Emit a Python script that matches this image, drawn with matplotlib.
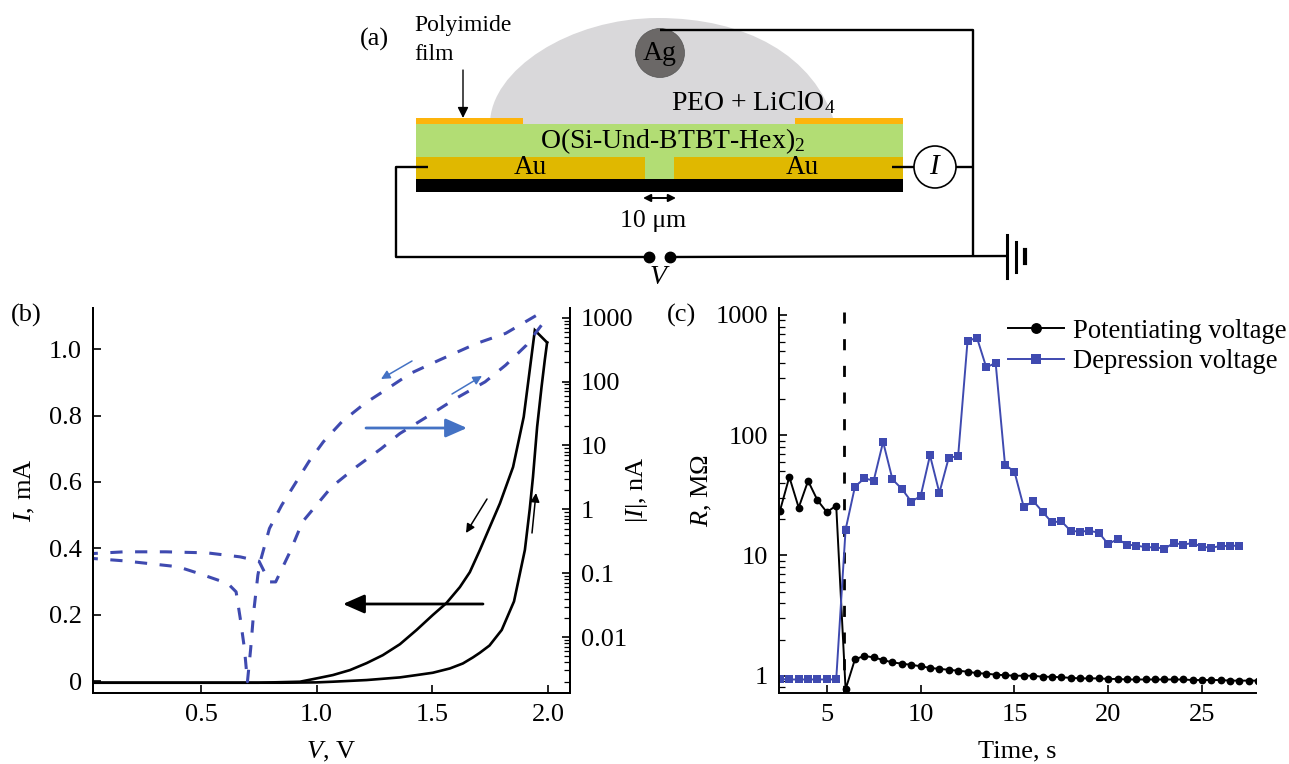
import numpy as np
import matplotlib
matplotlib.use('Agg')
import matplotlib.pyplot as plt
from matplotlib.patches import Rectangle, Ellipse, PathPatch
from matplotlib.path import Path

plt.rcParams['font.family'] = ['Liberation Serif', 'DejaVu Serif']
plt.rcParams['mathtext.fontset'] = 'custom'
plt.rcParams['mathtext.rm'] = 'Liberation Serif'
plt.rcParams['mathtext.it'] = 'Liberation Serif:italic'
plt.rcParams['axes.linewidth'] = 1.4

BLUE = '#3f4ab0'
ARROW_BLUE = '#4472c4'
TICK_FS = 19

# (b) I-V loop, linear axis (V, mA)
iv_up_v = [0.03, 0.5, 0.85, 1.0, 1.07, 1.216, 1.36, 1.432, 1.502, 1.576, 1.632, 1.675, 1.705, 1.747, 1.8, 1.853,
           1.9, 1.921, 1.935, 1.953, 1.972, 1.986, 1.996]
iv_up_i = [-0.005, -0.005, -0.005, -0.004, -0.002, 0.003, 0.011, 0.018, 0.025, 0.038, 0.053, 0.071, 0.085, 0.107, 0.154, 0.24,
           0.395, 0.518, 0.615, 0.766, 0.886, 0.967, 1.02]
iv_down_v = [1.996, 1.943, 1.921, 1.895, 1.849, 1.792, 1.705, 1.662, 1.619, 1.561, 1.502, 1.432, 1.36, 1.286,
             1.216, 1.144, 1.07, 1.0, 0.928, 0.75, 0.5, 0.03]
iv_down_i = [1.02, 1.057, 0.937, 0.796, 0.645, 0.535, 0.394, 0.328, 0.283, 0.235, 0.199, 0.154, 0.111, 0.078,
             0.054, 0.033, 0.018, 0.008, -0.002, -0.005, -0.005, -0.005]

# (b) same loop on log axis (V, nA)
log_a_v = [0.032, 0.168, 0.348, 0.527, 0.670, 0.751, 0.796, 0.823, 0.885, 0.939, 1.011, 1.065, 1.172, 1.280,
           1.360, 1.477, 1.602, 1.728, 1.817, 1.907, 1.996]
log_a_i = [0.203, 0.216, 0.216, 0.208, 0.180, 0.154, 0.073, 0.073, 0.216, 0.637, 1.31, 2.25, 4.63, 8.97,
           15.4, 28.1, 54.5, 99, 181, 373, 1000]
log_b_v = [0.032, 0.168, 0.401, 0.491, 0.616, 0.652, 0.670, 0.688, 0.701, 0.715, 0.728, 0.746, 0.760, 0.796,
           0.849, 0.903, 0.966, 1.029, 1.109, 1.208, 1.297, 1.405, 1.530, 1.692, 1.817, 1.952]
log_b_i = [0.170, 0.156, 0.126, 0.099, 0.069, 0.051, 0.0195, 0.0066, 0.002, 0.0066, 0.0248, 0.093, 0.170, 0.501,
           1.16, 2.39, 5.55, 11.4, 23.5, 45.5, 73.6, 134, 217, 396, 569, 1100]

# (c) resistance vs time
pot_t = np.arange(2.5, 28.5, 0.5)
pot_r = [23.5, 45, 25, 41.7, 28.8, 22.9, 26, 0.77, 1.37, 1.46, 1.42, 1.35, 1.29, 1.26, 1.23, 1.20, 1.16, 1.14,
         1.12, 1.10, 1.08, 1.05, 1.04, 1.02, 1.01, 1.00, 1.00, 1.00, 0.98, 0.98, 0.97, 0.96,
         0.95, 0.95, 0.95, 0.94, 0.94, 0.93, 0.93, 0.93, 0.93, 0.93, 0.93, 0.93, 0.92, 0.92, 0.92, 0.92,
         0.91, 0.91, 0.91, 0.91]
dep_t = np.arange(2.5, 27.5, 0.5)
dep_r = [0.94, 0.93, 0.93, 0.93, 0.93, 0.93, 0.93, 16.4, 37.4, 43.7, 42, 88, 42.9, 35.8, 28.1, 31.1, 68, 33.2,
         65, 67, 604, 649, 367, 399, 56.6, 49.9, 25.2, 28.4, 23.1, 18.8, 19.3, 16, 15.8, 16, 15.5,
         12.4, 13.7, 12.3, 12.1, 11.7, 11.7, 11.4, 12.7, 12.3, 12.7, 11.8, 11.6, 12.0, 12.0, 12.1]
switch_t = [5.93, 5.93]
switch_r = [1059, 0.718]

W, H = 1289, 764
fig = plt.figure(figsize=(W / 100, H / 100), dpi=100)


def axes_px(x0, x1, y0, y1):
    return fig.add_axes([x0 / W, 1 - y1 / H, (x1 - x0) / W, (y1 - y0) / H])


# panel b
ax = axes_px(93, 570, 308, 693)
ax.plot(iv_up_v, iv_up_i, color='k', lw=1.9, solid_joinstyle='miter')
ax.plot(iv_down_v, iv_down_i, color='k', lw=1.9, solid_joinstyle='miter')
ax.set_xlim(0.0335, 2.095)
ax.set_ylim(-0.036, 1.124)
ax.set_xticks([0.5, 1.0, 1.5, 2.0])
ax.set_yticks([0, 0.2, 0.4, 0.6, 0.8, 1.0])
ax.set_yticklabels(['0', '0.2', '0.4', '0.6', '0.8', '1.0'])
ax.tick_params(direction='in', length=6, width=1.2, labelsize=TICK_FS, pad=8)
ax.spines['top'].set_visible(False)
ax.set_xlabel('$\\mathit{V}$, V', fontsize=TICK_FS, labelpad=10)
ax.set_ylabel('$\\mathit{I}$, mA', fontsize=TICK_FS)
ax.yaxis.set_label_coords(-0.117, 0.527)

ax2 = ax.twinx()
ax2.plot(log_a_v, log_a_i, color=BLUE, lw=2.2, linestyle=(2.3, (4, 4.1)))
ax2.plot(log_b_v, log_b_i, color=BLUE, lw=2.2, linestyle=(2.3, (4, 4.1)))
ax2.set_yscale('log')
ax2.set_ylim(10 ** -2.876, 10 ** 3.152)
ax2.set_yticks([0.01, 0.1, 1, 10, 100, 1000])
ax2.set_yticklabels(['0.01', '0.1', '1', '10', '100', '1000'])
ax2.tick_params(which='major', direction='in', length=6, width=1.2, labelsize=TICK_FS, pad=8)
ax2.tick_params(which='minor', direction='in', length=4, width=0.9)
ax2.spines['top'].set_visible(False)
ax2.set_ylabel('|$\\mathit{I}$|, nA', fontsize=TICK_FS)
ax2.yaxis.set_label_coords(1.113, 0.527)

# panel c
axc = axes_px(779, 1256, 308, 693)
axc.plot(switch_t, switch_r, color='k', lw=2.0, dashes=(4, 5.6))
axc.plot(pot_t, pot_r, color='k', lw=1.4, marker='o', ms=5.6, mew=0, label='Potentiating voltage')
axc.plot(dep_t, dep_r, color=BLUE, lw=1.4, marker='s', ms=5.2, mew=0, label='Depression voltage')
axc.set_yscale('log')
axc.set_xlim(2.45, 27.88)
axc.set_ylim(0.718, 1143)
axc.set_xticks([5, 10, 15, 20, 25])
axc.set_yticks([1, 10, 100, 1000])
axc.set_yticklabels(['1', '10', '100', '1000'])
axc.tick_params(which='major', direction='in', length=6, width=1.2, labelsize=TICK_FS, pad=8)
axc.tick_params(which='minor', direction='in', length=4, width=0.9)
axc.spines['top'].set_visible(False)
axc.spines['right'].set_visible(False)
axc.set_xlabel('Time, s', fontsize=TICK_FS, labelpad=10)
axc.set_ylabel('$\\mathit{R}$, M\u03a9', fontsize=TICK_FS)
axc.yaxis.set_label_coords(-0.136, 0.527)
axc.legend(loc='upper left', bbox_to_anchor=(0.48, 0.972), frameon=False, fontsize=19.2, handlelength=2.1,
           handletextpad=0.34, labelspacing=0.2, markerscale=1.4, borderpad=0, borderaxespad=0)

# overlay in picture pixels for the device sketch and the annotation arrows
ov = fig.add_axes([0, 0, 1, 1], zorder=10)
ov.set_xlim(0, W)
ov.set_ylim(H, 0)
ov.axis('off')
ov.patch.set_alpha(0)

drop = Path([(490, 124), (490, 70), (570, 18), (658, 18), (745, 18), (815, 55), (835, 124)],
            [Path.MOVETO] + [Path.CURVE4] * 6)
ov.add_patch(PathPatch(drop, fc='#d9d8da', ec='none'))
ov.add_patch(Rectangle((416, 124), 487, 55, fc='#b2dd74', ec='none'))
ov.add_patch(Rectangle((416, 118), 107, 6, fc='#fdb40c', ec='none'))
ov.add_patch(Rectangle((795, 118), 108, 6, fc='#fdb40c', ec='none'))
ov.add_patch(Rectangle((416, 157), 229, 22, fc='#e0b800', ec='none'))
ov.add_patch(Rectangle((674, 157), 229, 22, fc='#e0b800', ec='none'))
ov.add_patch(Rectangle((416, 179), 487, 13, fc='k', ec='none'))
ov.add_patch(Ellipse((660, 53), 49, 49, fc='#6b6867', ec='#555555', lw=0.5))

wire = dict(color='k', lw=1.7, solid_capstyle='butt')
ov.plot([660, 973, 973], [30, 30, 256], **wire)
ov.plot([428, 396, 396, 645], [167, 167, 257, 257], **wire)
ov.plot([674, 1007], [257, 256], **wire)
ov.plot([892, 914], [167, 167], **wire)
ov.plot([956, 973], [167, 167], **wire)
ov.add_patch(Ellipse((935, 167), 42, 42, fc='w', ec='k', lw=1.2))
ov.plot([1007, 1007], [235, 278], color='k', lw=2.2)
ov.plot([1016, 1016], [242, 272], color='k', lw=2.2)
ov.plot([1025, 1025], [250, 263], color='k', lw=3)
ov.plot([649, 670], [257, 257], 'o', color='k', ms=7.5)

ov.annotate('', xy=(463, 118), xytext=(463, 70), arrowprops=dict(arrowstyle='-|>', color='k', lw=1, mutation_scale=16, shrinkA=0, shrinkB=0))
ov.annotate('', xy=(676, 198), xytext=(643, 198), arrowprops=dict(arrowstyle='<|-|>', color='k', lw=1.4, mutation_scale=11, shrinkA=0, shrinkB=0))

ov.text(360, 39, '(a)', fontsize=19, va='center')
ov.text(414, 26, 'Polyimide', fontsize=17, va='center')
ov.text(414, 55, 'film', fontsize=17, va='center')
ov.text(660, 53, 'Ag', fontsize=20, ha='center', va='center')
ov.text(671, 103, 'PEO + LiClO$_4$', fontsize=20, va='center')
ov.text(540, 141, 'O(Si-Und-BTBT-Hex)$_2$', fontsize=20, va='center')
ov.text(530, 167, 'Au', fontsize=19.5, ha='center', va='center')
ov.text(802, 167, 'Au', fontsize=19.5, ha='center', va='center')
ov.text(935, 167, '$\\mathit{I}$', fontsize=21, ha='center', va='center')
ov.text(653, 221, '10 \u03bcm', fontsize=18.5, ha='center', va='center')
ov.text(660, 278, '$\\mathit{V}$', fontsize=20, ha='center', va='center')
ov.text(11, 315, '(b)', fontsize=19, va='center')
ov.text(667, 315, '(c)', fontsize=19, va='center')

big = dict(arrowstyle='-|>,head_length=0.5,head_width=0.22', lw=2.0, mutation_scale=26, shrinkA=0, shrinkB=0)
thin = dict(arrowstyle='-|>', lw=1.1, mutation_scale=13, shrinkA=0, shrinkB=0)
ov.annotate('', xy=(467, 428), xytext=(366, 428), arrowprops=dict(color=ARROW_BLUE, **big))
ov.annotate('', xy=(343, 604), xytext=(483, 604), arrowprops=dict(color='k', **big))
ov.annotate('', xy=(381, 379), xytext=(412, 361), arrowprops=dict(color=ARROW_BLUE, **thin))
ov.annotate('', xy=(482, 376), xytext=(452, 394), arrowprops=dict(color=ARROW_BLUE, **thin))
ov.annotate('', xy=(466, 533), xytext=(487, 499), arrowprops=dict(color='k', **thin))
ov.annotate('', xy=(536, 493), xytext=(532, 533), arrowprops=dict(color='k', **thin))

fig.savefig('out.png', dpi=100)
